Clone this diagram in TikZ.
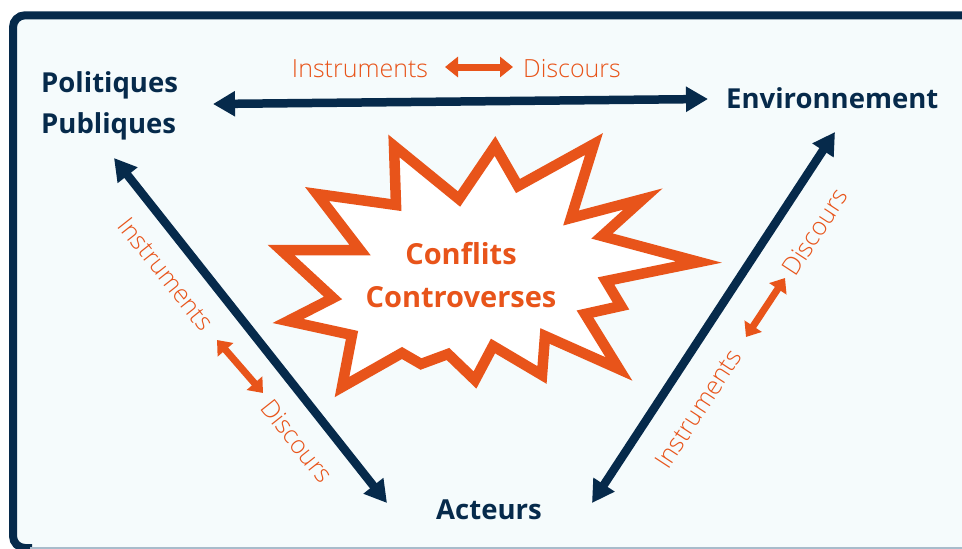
\documentclass[tikz,border=0pt]{standalone}
\usepackage{fontspec}
\setmainfont{Open Sans}
\newfontfamily\lightfont{Open Sans Light}
\usetikzlibrary{arrows.meta}
\definecolor{navy}{HTML}{062A4B}
\definecolor{orng}{HTML}{E8541A}
\definecolor{bgc}{HTML}{F5FBFC}
\definecolor{bge}{HTML}{D6EBF4}
\definecolor{btm}{HTML}{A8BCCB}
\pgfdeclareradialshading{bgshade}{\pgfpoint{0bp}{0bp}}{color(0bp)=(bgc); color(44bp)=(bgc); color(72bp)=(bge); color(80bp)=(bge)}
\tikzset{
  mainlbl/.style={font=\fontsize{27.5}{33}\selectfont\bfseries, text=navy, inner sep=0pt},
  conflbl/.style={font=\fontsize{29}{35}\selectfont\bfseries, text=orng, inner sep=0pt},
  sidelbl/.style={font=\fontsize{25}{30}\selectfont\lightfont, text=orng, inner sep=0pt},
  dkarrow/.style={draw=navy, line width=8.5pt, {Triangle[width=24pt,length=22pt]}-{Triangle[width=24pt,length=22pt]}},
  orarrow/.style={draw=orng, line width=7pt, {Triangle[width=20pt,length=13pt]}-{Triangle[width=20pt,length=13pt]}},
  burst/.style={draw=orng, fill=white, line width=10.5pt, line join=miter, miter limit=20}
}
\begin{document}
\begin{tikzpicture}[x=1pt,y=-1pt]
\useasboundingbox (0,0) rectangle (962,549);
\fill[white] (0,0) rectangle (962,549);
% frame
\shade[shading=bgshade, rounded corners=12pt] (13,15.3) rectangle (990,551);
\draw[navy, line width=8pt, rounded corners=12pt] (995,15.3) -- (13,15.3) -- (13,548) -- (32,548);
\draw[btm, line width=1.5pt] (30,548) -- (962,548);

% starburst
\draw[burst] (394,146) -- (459,199) -- (495,146) -- (518,186) -- (594,144) -- (571,218)
  -- (643,199) -- (602,236) -- (699,262) -- (606,281) -- (621,306) -- (585,314)
  -- (619,369) -- (545,336) -- (542,375) -- (493,346) -- (475,380) -- (448,354)
  -- (421,364) -- (402,353) -- (342,387) -- (352,335) -- (288,321) -- (333,298)
  -- (281,250) -- (360,250) -- (317,194) -- (396,205) -- cycle;
\node[conflbl, anchor=base] (confl) at (461,264) {Conflits};
\node[conflbl, anchor=base] (contr) at (461,307) {Controverses};

% main labels
\node[mainlbl, anchor=base west] (pol) at (41,92) {Politiques};
\node[mainlbl, anchor=base west] (pub) at (41,133) {Publiques};
\node[mainlbl, anchor=base west] (env) at (726,108) {Environnement};
\node[mainlbl, anchor=base] (act) at (489,519) {Acteurs};

% arrow end points
\coordinate (ppR) at (213,104);
\coordinate (envL) at (708,99);
\coordinate (ppB) at (114,158);
\coordinate (actL) at (387,503);
\coordinate (envB) at (835,132);
\coordinate (actR) at (592,503);
\draw[dkarrow] (ppR) -- (envL);
\draw[dkarrow] (ppB) -- (actL);
\draw[dkarrow] (envB) -- (actR);

% side labels
\node[sidelbl, anchor=base] (tinst) at (360,77) {Instruments};
\node[sidelbl, anchor=base] (tdisc) at (572,77) {Discours};
\coordinate (toA) at (445,67);
\coordinate (toB) at (513,67);
\draw[orarrow] (toA) -- (toB);

\node[sidelbl, rotate=-51.6] (linst) at (166,274) {Instruments};
\node[sidelbl, rotate=-51.6] (ldisc) at (297,441) {Discours};
\coordinate (loA) at (217,340);
\coordinate (loB) at (263,393);
\draw[orarrow] (loA) -- (loB);

\node[sidelbl, rotate=56.8] (rdisc) at (815,232) {Discours};
\node[sidelbl, rotate=56.8] (rinst) at (698,409) {Instruments};
\coordinate (roA) at (785,278);
\coordinate (roB) at (746,337);
\draw[orarrow] (roA) -- (roB);
\end{tikzpicture}
\end{document}
